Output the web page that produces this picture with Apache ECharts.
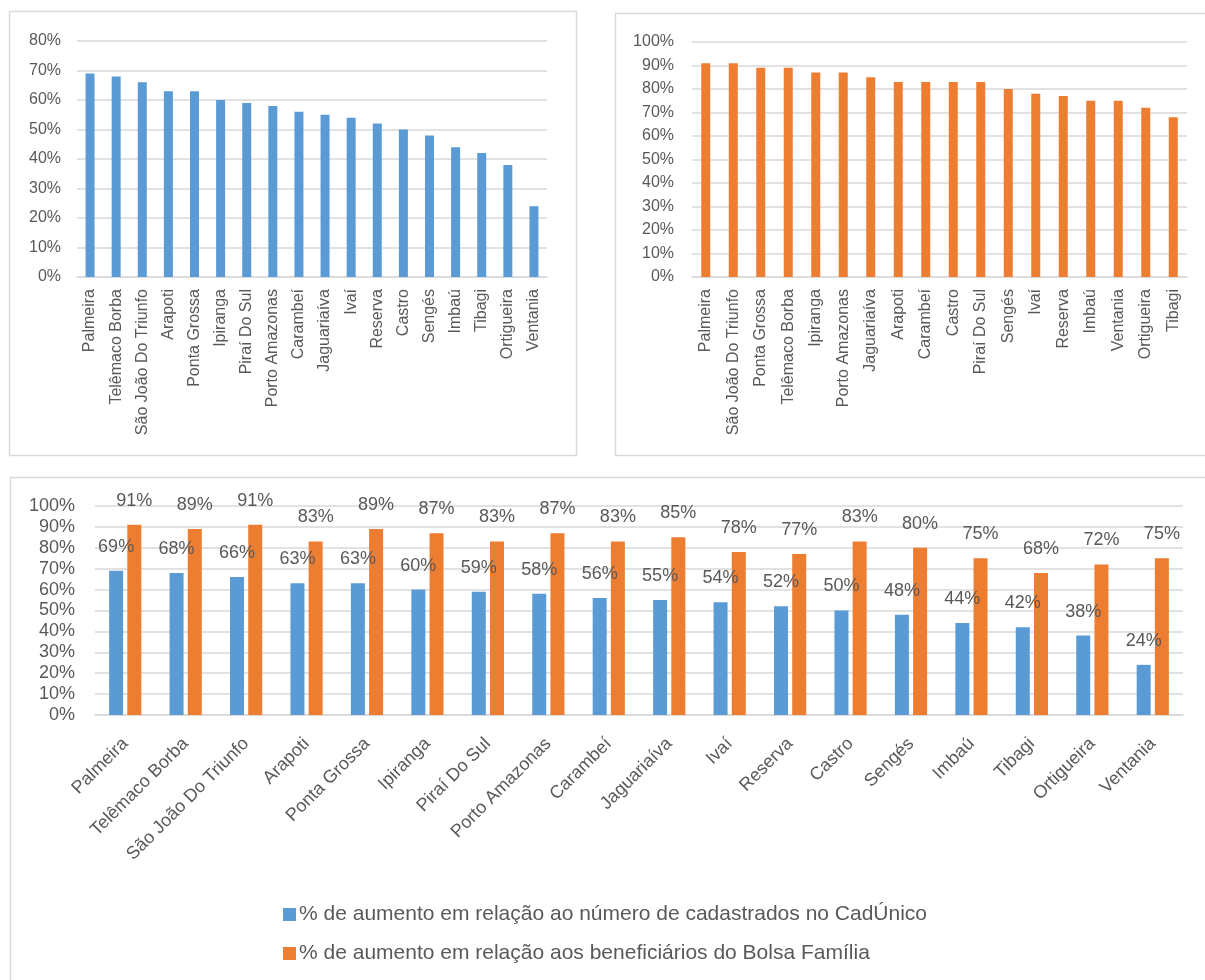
<!DOCTYPE html>
<html>
<head>
<meta charset="utf-8">
<script src="https://cdn.jsdelivr.net/npm/echarts@6/dist/echarts.min.js"></script>
<style>
  html, body { margin: 0; padding: 0; background: #fff; }
  #main { width: 1205px; height: 980px; }
</style>
</head>
<body>
<div id="main"></div>
<script>
// municipios (ordem do CadÚnico)
var municipios = ['Palmeira', 'Telêmaco Borba', 'São João Do Triunfo', 'Arapoti', 'Ponta Grossa',
    'Ipiranga', 'Piraí Do Sul', 'Porto Amazonas', 'Carambeí', 'Jaguariaíva', 'Ivaí', 'Reserva',
    'Castro', 'Sengés', 'Imbaú', 'Tibagi', 'Ortigueira', 'Ventania'];
// % de aumento em relação ao CadÚnico
var cadUnico = [69, 68, 66, 63, 63, 60, 59, 58, 56, 55, 54, 52, 50, 48, 44, 42, 38, 24];
// % de aumento em relação ao Bolsa Família
var bolsaFamilia = [91, 89, 91, 83, 89, 87, 83, 87, 83, 85, 78, 77, 83, 80, 75, 68, 72, 75];
// ordem do gráfico do Bolsa Família (decrescente)
var municipiosBolsa = ['Palmeira', 'São João Do Triunfo', 'Ponta Grossa', 'Telêmaco Borba', 'Ipiranga',
    'Porto Amazonas', 'Jaguariaíva', 'Arapoti', 'Carambeí', 'Castro', 'Piraí Do Sul', 'Sengés',
    'Ivaí', 'Reserva', 'Imbaú', 'Ventania', 'Ortigueira', 'Tibagi'];
var bolsaOrdenado = municipiosBolsa.map(function (m) {
    return bolsaFamilia[municipios.indexOf(m)];
});

var nomeCad = '% de aumento em relação ao número de cadastrados no CadÚnico';
var nomeBolsa = '% de aumento em relação aos beneficiários do Bolsa Família';

var azul = '#5b9bd5', laranja = '#ed7d31', texto = '#595959', linha = '#d9d9d9';
var fonte = 'Liberation Sans';

function eixoY(idx, max, size, margin) {
    return {
        type: 'value', gridIndex: idx, min: 0, max: max, interval: 10,
        axisLine: { show: false }, axisTick: { show: false },
        axisLabel: { formatter: '{value}%', color: texto, fontSize: size, fontFamily: fonte, margin: margin },
        splitLine: { lineStyle: { color: linha, width: 1.5 } }
    };
}
function eixoX(idx, data, rotate, size, margin) {
    return {
        type: 'category', gridIndex: idx, data: data,
        axisLine: { lineStyle: { color: linha, width: 1.5 } },
        axisTick: { show: false },
        axisLabel: { interval: 0, rotate: rotate, color: texto, fontSize: size, fontFamily: fonte, margin: margin }
    };
}

var myChart = echarts.init(document.getElementById('main'));
var option = {
    backgroundColor: '#fff',
    animation: false,
    graphic: [
        { type: 'rect', shape: { x: 9.5, y: 11.5, width: 567, height: 444 }, style: { fill: 'none', stroke: linha, lineWidth: 1.5 } },
        { type: 'rect', shape: { x: 615.5, y: 13.5, width: 600, height: 442 }, style: { fill: 'none', stroke: linha, lineWidth: 1.5 } },
        { type: 'rect', shape: { x: 10.5, y: 477.5, width: 1200, height: 520 }, style: { fill: 'none', stroke: linha, lineWidth: 1.5 } }
    ],
    legend: {
        orient: 'vertical', left: 278, top: 899, itemGap: 18,
        itemWidth: 13, itemHeight: 13, icon: 'rect',
        textStyle: { color: texto, fontSize: 21, fontFamily: fonte, padding: [0, 0, 0, -2] },
        data: [nomeCad, nomeBolsa]
    },
    grid: [
        { left: 77, top: 41, width: 470, height: 236 },
        { left: 692, top: 42, width: 495, height: 235 },
        { left: 95, top: 506, width: 1088, height: 209 }
    ],
    xAxis: [
        eixoX(0, municipios, 90, 16, 12),
        eixoX(1, municipiosBolsa, 90, 16, 12),
        eixoX(2, municipios, 45, 18, 26)
    ],
    yAxis: [
        eixoY(0, 80, 16, 16),
        eixoY(1, 100, 16, 18),
        eixoY(2, 100, 18, 20)
    ],
    series: [
        { name: 'cad-top', type: 'bar', xAxisIndex: 0, yAxisIndex: 0, data: cadUnico, barWidth: 9, itemStyle: { color: azul } },
        { name: 'bolsa-top', type: 'bar', xAxisIndex: 1, yAxisIndex: 1, data: bolsaOrdenado, barWidth: 9, itemStyle: { color: laranja } },
        {
            name: nomeCad, type: 'bar', xAxisIndex: 2, yAxisIndex: 2, data: cadUnico,
            barWidth: 14, barGap: '30%', itemStyle: { color: azul },
            label: { show: true, position: 'top', distance: 15, formatter: '{c}%', color: texto, fontSize: 18, fontFamily: fonte }
        },
        {
            name: nomeBolsa, type: 'bar', xAxisIndex: 2, yAxisIndex: 2, data: bolsaFamilia,
            barWidth: 14, barGap: '30%', itemStyle: { color: laranja },
            label: { show: true, position: 'top', distance: 15, formatter: '{c}%', color: texto, fontSize: 18, fontFamily: fonte }
        }
    ]
};
if (option && typeof option === "object") {
    myChart.setOption(option, true);
}
</script>
</body>
</html>
